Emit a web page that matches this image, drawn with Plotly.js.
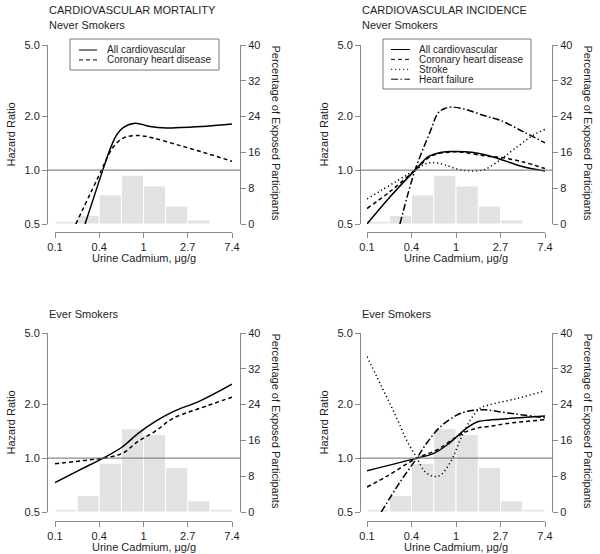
<!DOCTYPE html>
<html>
<head>
<meta charset="utf-8">
<script src="https://cdn.plot.ly/plotly-3.0.1.min.js"></script>
<style>
    html, body { margin: 0; padding: 0; background: #fff; }
    #chart { width: 600px; height: 554px; }
</style>
</head>
<body>
<div id="chart"></div>
<script>
// Urine cadmium is drawn on a natural-log scale, ticks at ln = -2 .. 2
const cadmiumTicks = [-2, -1, 0, 1, 2];
const cadmiumLabels = ['0.1', '0.4', '1', '2.7', '7.4'];
const hrTicks = [0.5, 1, 2, 5];
const hrLabels = ['0.5', '1.0', '2.0', '5.0'];
const pctTicks = [0, 8, 16, 24, 32, 40];

// Exposure histograms (% of participants per 0.5 ln-unit bin)
const binsNever = [-1.75, -1.25, -0.75, -0.25, 0.25, 0.75, 1.25];
const pctNever = [0.6, 1.9, 6.5, 10.8, 8.5, 4.0, 0.9];
const binsEver = [-1.75, -1.25, -0.75, -0.25, 0.25, 0.75, 1.25, 1.75];
const pctEver = [0.6, 3.7, 10.9, 18.6, 17.3, 10.0, 2.5, 0.6];

// Cardiovascular mortality, never smokers
const mortNeverAllX = [-1.32, -0.92, -0.76, -0.61, -0.46, -0.19, 0.15, 0.52, 0.83, 1.43, 2.0];
const mortNeverAllHR = [0.5, 1.0, 1.30, 1.57, 1.73, 1.83, 1.75, 1.72, 1.73, 1.76, 1.81];
const mortNeverChdX = [-1.53, -0.95, -0.83, -0.68, -0.46, -0.12, 0.22, 0.83, 1.43, 2.0];
const mortNeverChdHR = [0.5, 1.0, 1.16, 1.35, 1.51, 1.56, 1.51, 1.37, 1.24, 1.12];

// Cardiovascular mortality, ever smokers
const mortEverAllX = [-2.0, -1.44, -0.91, -0.49, -0.12, 0.26, 0.67, 1.28, 2.0];
const mortEverAllHR = [0.73, 0.86, 1.0, 1.15, 1.375, 1.60, 1.82, 2.09, 2.59];
const mortEverChdX = [-2.0, -1.25, -0.91, -0.49, -0.12, 0.26, 0.67, 1.28, 2.0];
const mortEverChdHR = [0.93, 0.976, 1.0, 1.06, 1.24, 1.41, 1.67, 1.90, 2.19];

// Cardiovascular incidence, never smokers
const incNeverAllX = [-2.0, -1.48, -0.92, -0.62, -0.32, -0.02, 0.35, 0.65, 0.99, 1.51, 2.0];
const incNeverAllHR = [0.5, 0.71, 1.0, 1.19, 1.26, 1.27, 1.26, 1.22, 1.15, 1.045, 0.99];
const incNeverChdX = [-2.0, -1.48, -0.92, -0.55, -0.17, 0.13, 0.65, 0.99, 1.51, 2.0];
const incNeverChdHR = [0.61, 0.76, 1.0, 1.20, 1.26, 1.26, 1.20, 1.18, 1.11, 1.02];
const incNeverStrokeX = [-2.0, -0.92, -0.66, -0.47, -0.25, 0.05, 0.35, 0.65, 0.99, 1.29, 1.74, 2.0];
const incNeverStrokeHR = [0.69, 1.0, 1.09, 1.10, 1.07, 1.01, 0.99, 1.01, 1.14, 1.30, 1.57, 1.69];
const incNeverHfX = [-1.26, -0.92, -0.58, -0.40, -0.25, -0.10, 0.20, 0.65, 0.99, 1.51, 2.0];
const incNeverHfHR = [0.5, 1.0, 1.64, 2.09, 2.21, 2.25, 2.19, 2.01, 1.90, 1.64, 1.42];

// Cardiovascular incidence, ever smokers
const incEverAllX = [-2.0, -0.88, -0.51, -0.21, 0.02, 0.24, 0.50, 0.73, 0.99, 2.0];
const incEverAllHR = [0.85, 1.0, 1.06, 1.18, 1.32, 1.47, 1.60, 1.63, 1.65, 1.72];
const incEverChdX = [-2.0, -1.56, -0.88, -0.43, -0.14, 0.16, 0.47, 0.73, 1.14, 2.0];
const incEverChdHR = [0.69, 0.79, 1.0, 1.11, 1.24, 1.38, 1.47, 1.50, 1.56, 1.64];
const incEverStrokeX = [-2.0, -1.78, -1.56, -1.33, -1.11, -0.88, -0.70, -0.51, -0.36, -0.21, -0.06, 0.09, 0.32, 0.54, 0.73, 1.36, 2.0];
const incEverStrokeHR = [3.69, 2.85, 2.20, 1.67, 1.26, 1.0, 0.84, 0.79, 0.80, 0.88, 1.02, 1.26, 1.63, 1.90, 1.98, 2.15, 2.38];
const incEverHfX = [-1.68, -1.25, -0.88, -0.66, -0.36, 0.02, 0.32, 0.65, 1.14, 2.0];
const incEverHfHR = [0.5, 0.74, 1.0, 1.21, 1.49, 1.74, 1.84, 1.86, 1.79, 1.68];

const seriesNames = {
    all: 'All cardiovascular',
    chd: 'Coronary heart disease',
    stroke: 'Stroke',
    hf: 'Heart failure',
};

// R-like line types
const DASHES = {
    all: 'solid',
    chd: '4px,3px',
    stroke: '1.2px,2.8px',
    hf: '7px,2.5px,1.5px,2.5px',
};

const W = 600, H = 554;
const fx = px => px / W;
const fy = py => 1 - py / H;

const AXIS_GRAY = '#8a8a8a';
const TEXT = '#1e1e1e';
const FONT = 'Liberation Sans, Arial, Helvetica, sans-serif';

// pixel geometry of each panel
const panels = [
    {
        heading: 'CARDIOVASCULAR MORTALITY', group: 'Never Smokers',
        left: 47, right: 240, x0: 55, x1: 232, top: 45, bottom: 224, axisY: 232,
        bins: binsNever, pct: pctNever,
        curves: [
            ['all', mortNeverAllX, mortNeverAllHR],
            ['chd', mortNeverChdX, mortNeverChdHR],
        ],
        legend: { x0: 70, x1: 219, y0: 39, y1: 70, lineX0: 79, lineX1: 97, textX: 106, rowY: 50 },
    },
    {
        heading: 'CARDIOVASCULAR INCIDENCE', group: 'Never Smokers',
        left: 360, right: 552, x0: 367, x1: 545, top: 45, bottom: 224, axisY: 232,
        bins: binsNever, pct: pctNever,
        curves: [
            ['all', incNeverAllX, incNeverAllHR],
            ['chd', incNeverChdX, incNeverChdHR],
            ['stroke', incNeverStrokeX, incNeverStrokeHR],
            ['hf', incNeverHfX, incNeverHfHR],
        ],
        legend: { x0: 383, x1: 531, y0: 39, y1: 89, lineX0: 391, lineX1: 410, textX: 418, rowY: 49.5 },
    },
    {
        heading: null, group: 'Ever Smokers',
        left: 47, right: 240, x0: 55, x1: 232, top: 333, bottom: 512, axisY: 521,
        bins: binsEver, pct: pctEver,
        curves: [
            ['all', mortEverAllX, mortEverAllHR],
            ['chd', mortEverChdX, mortEverChdHR],
        ],
    },
    {
        heading: null, group: 'Ever Smokers',
        left: 360, right: 552, x0: 367, x1: 545, top: 333, bottom: 512, axisY: 521,
        bins: binsEver, pct: pctEver,
        curves: [
            ['all', incEverAllX, incEverAllHR],
            ['chd', incEverChdX, incEverChdHR],
            ['stroke', incEverStrokeX, incEverStrokeHR],
            ['hf', incEverHfX, incEverHfHR],
        ],
    },
];

const traces = [];
const layout = {
    width: W,
    height: H,
    margin: { l: 0, r: 0, t: 0, b: 0 },
    paper_bgcolor: '#fff',
    plot_bgcolor: 'rgba(0,0,0,0)',
    font: { family: FONT, size: 11, color: TEXT },
    showlegend: false,
    shapes: [],
    annotations: [],
};

const textNote = (text, x, y, opts = {}) => Object.assign({
    text, xref: 'paper', yref: 'paper', x: fx(x), y: fy(y),
    xanchor: 'center', yanchor: 'middle', showarrow: false,
    borderpad: 0,
    font: { family: FONT, size: 11, color: TEXT },
}, opts);

panels.forEach((p, i) => {
    const n = i + 1;
    const xId = n === 1 ? 'x' : 'x' + n;
    const pctId = n === 1 ? 'y' : 'y' + n;       // base axis: histogram (right)
    const hrId = 'y' + (n + 4);                 // overlay axis: hazard ratio (left)
    const xKey = n === 1 ? 'xaxis' : 'xaxis' + n;
    const pctKey = n === 1 ? 'yaxis' : 'yaxis' + n;
    const hrKey = 'yaxis' + (n + 4);
    const yDomain = [fy(p.bottom), fy(p.top)];

    const common = {
        showline: true, linecolor: AXIS_GRAY, linewidth: 1,
        ticks: 'outside', ticklen: 5, tickcolor: AXIS_GRAY, tickwidth: 1,
        showgrid: false, zeroline: false, fixedrange: true,
        tickfont: { family: FONT, size: 11, color: TEXT },
    };

    layout[xKey] = Object.assign({}, common, {
        domain: [fx(p.x0), fx(p.x1)],
        range: [-2, 2],
        anchor: 'free',
        position: fy(p.axisY),
        tickvals: cadmiumTicks,
        ticktext: cadmiumLabels,
        ticklabelstandoff: 0,
    });
    layout[pctKey] = Object.assign({}, common, {
        domain: yDomain,
        range: [0, 40],
        side: 'right',
        anchor: 'free',
        position: fx(p.right),
        tickvals: pctTicks,
    });
    layout[hrKey] = Object.assign({}, common, {
        domain: yDomain,
        type: 'log',
        range: [Math.log10(0.5), Math.log10(5)],
        overlaying: pctId,
        side: 'left',
        anchor: 'free',
        position: fx(p.left),
        tickvals: hrTicks,
        ticktext: hrLabels,
    });

    // histogram bars
    traces.push({
        type: 'bar',
        x: p.bins,
        y: p.pct,
        width: 0.5,
        xaxis: xId,
        yaxis: pctId,
        marker: { color: '#e2e2e2', line: { color: '#fff', width: 1 } },
        hoverinfo: 'skip',
    });

    // spline curves
    p.curves.forEach(([key, xs, hrs]) => {
        traces.push({
            type: 'scatter',
            mode: 'lines',
            x: xs,
            y: hrs,
            xaxis: xId,
            yaxis: hrId,
            name: seriesNames[key],
            line: { color: '#000', width: 1.5, dash: DASHES[key], shape: 'spline', smoothing: 1 },
        });
    });

    // reference line at HR = 1 spanning the whole box
    layout.shapes.push({
        type: 'line', xref: 'paper', yref: hrId,
        x0: fx(p.left), x1: fx(p.right), y0: 1, y1: 1,
        line: { color: '#6e6e6e', width: 1 },
    });

    // headings and axis titles
    if (p.heading) layout.annotations.push(textNote(p.heading, p.left + 1, 10, { xanchor: 'left' }));
    layout.annotations.push(textNote(p.group, p.left + 1, p.top - 19.5, { xanchor: 'left' }));
    const midY = (p.top + p.bottom) / 2;
    layout.annotations.push(textNote('Hazard Ratio', p.left - 37, midY, { textangle: -90 }));
    layout.annotations.push(textNote('Percentage of Exposed Participants', p.right + 36, midY - 2, { textangle: 90 }));
    layout.annotations.push(textNote('Urine Cadmium, μg/g', (p.x0 + p.x1) / 2, p.axisY + 26));

    // legend box
    if (p.legend) {
        const lg = p.legend;
        layout.shapes.push({
            type: 'rect', xref: 'paper', yref: 'paper',
            x0: fx(lg.x0), x1: fx(lg.x1), y0: fy(lg.y1), y1: fy(lg.y0),
            line: { color: '#7a7a7a', width: 1 }, fillcolor: '#fff', layer: 'above',
        });
        p.curves.forEach(([key], k) => {
            const yy = lg.rowY + k * 9.9;
            layout.shapes.push({
                type: 'line', xref: 'paper', yref: 'paper',
                x0: fx(lg.lineX0), x1: fx(lg.lineX1), y0: fy(yy), y1: fy(yy),
                line: { color: '#000', width: 1, dash: DASHES[key] },
            });
            layout.annotations.push(textNote(seriesNames[key], lg.textX, yy, {
                xanchor: 'left',
                font: { family: FONT, size: 10, color: TEXT },
            }));
        });
    }
});

Plotly.newPlot('chart', traces, layout, { displayModeBar: false, staticPlot: true });
</script>
</body>
</html>
